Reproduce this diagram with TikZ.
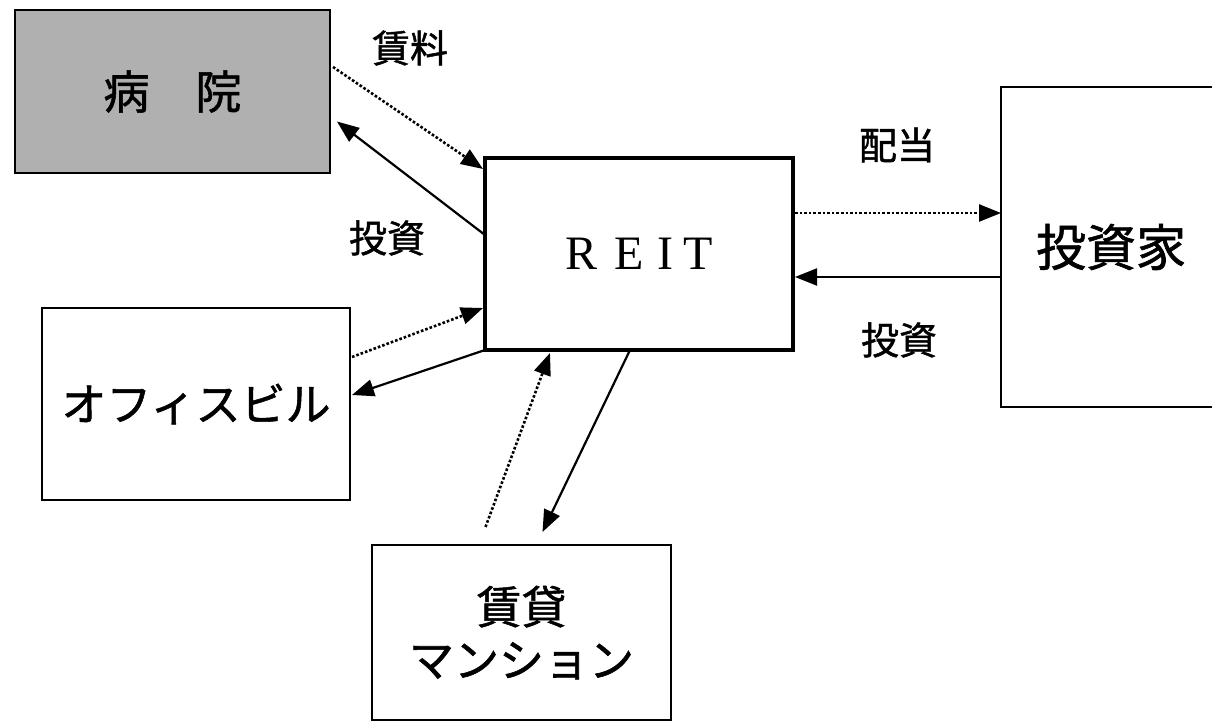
\documentclass[tikz,border=0pt]{standalone}
\usepackage{fontspec}
\newfontfamily\jp{Noto Sans CJK JP}[FakeBold=1.2]
\newfontfamily\rmserif{Liberation Serif}
\usetikzlibrary{arrows.meta,calc}
\definecolor{hatch}{RGB}{176,176,176}
\tikzset{
  box/.style={draw=black, line width=2pt, outer sep=0pt, inner sep=0pt, fill=white},
  lbl/.style={font=\jp\fontsize{38}{40}\selectfont, inner sep=0pt},
  sol/.style={line width=2.2pt, -{Triangle[length=22pt,width=17pt]}},
  dot/.style={line width=2.6pt, dash pattern=on 2.6pt off 2pt, -{Triangle[length=22pt,width=17pt]}},
}
\begin{document}
\begin{tikzpicture}[x=1pt,y=-1pt]
\useasboundingbox (0,0) rectangle (1212,722);
\clip (0,0) rectangle (1212,722);
% boxes
\node[box, fill=hatch, minimum width=315pt, minimum height=163pt,
  font=\jp\fontsize{46}{48}\selectfont] (hosp) at (172.5,91.5) {病　院};
\node[box, line width=4pt, minimum width=308pt, minimum height=192pt,
  font=\rmserif\fontsize{48}{50}\selectfont] (reit) at (639,254) {R\hspace{0.35em}E\hspace{0.3em}I\hspace{0.2em}T};
\node[box, minimum width=220pt, minimum height=320pt,
  font=\jp\fontsize{50}{52}\selectfont] (inv) at (1111,247) {投資家};
\node[box, minimum width=308pt, minimum height=192pt,
  font=\jp\fontsize{45}{47}\selectfont] (office) at (196,404) {オフィスビル};
\node[box, minimum width=299pt, minimum height=175pt, align=center,
  font=\jp\fontsize{45}{53}\selectfont] (mans) at (521.5,632.5) {賃貸\\マンション};
% labels
\node[lbl] (l1) at (410,48) {賃料};
\node[lbl] (l2) at (387,238) {投資};
\node[lbl] (l3) at (897,145) {配当};
\node[lbl] (l4) at (899,340) {投資};
% connectors
\draw[dot] ($(hosp.north east)+(3,57)$) -- ($(reit.north west)+(-2,11)$);
\draw[sol] ($(reit.north west)+(0,77)$) -- ($(hosp.east)+(7,30)$);
\draw[dot] ($(office.east)+(2,-47)$) -- ($(reit.south west)+(-2,-42)$);
\draw[sol] (reit.south west) -- ($(office.east)+(2,-9)$);
\draw[dot] ($(mans.north)+(-36,-18)$) -- ($(reit.south west)+(65,3)$);
\draw[sol] ($(reit.south west)+(145,0)$) -- ($(mans.north)+(21,-13)$);
\draw[dot] ($(reit.east)+(2,-41)$) -- ($(inv.west)+(0,-34)$);
\draw[sol] ($(inv.west)+(0,30)$) -- ($(reit.east)+(2,23)$);
\end{tikzpicture}
\end{document}
